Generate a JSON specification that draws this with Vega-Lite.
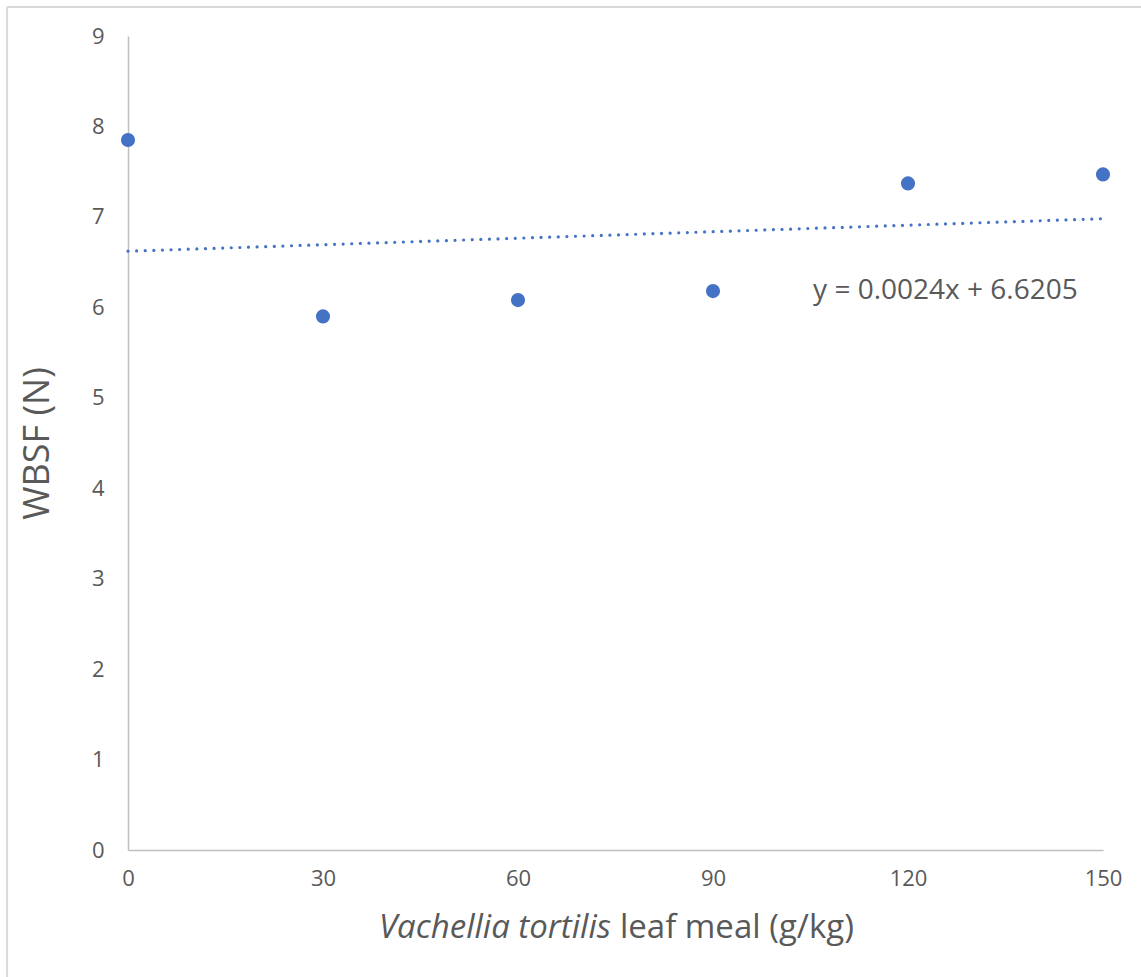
{
  "$schema": "https://vega.github.io/schema/vega-lite/v6.json",
  "width": 975,
  "height": 814,
  "autosize": {"type": "none"},
  "padding": {"left": 128, "top": 36, "right": 38, "bottom": 127},
  "background": "white",
  "config": {
    "view": {"stroke": null},
    "font": "Open Sans",
    "axis": {
      "domainColor": "#BFBFBF",
      "domainWidth": 1.5,
      "ticks": false,
      "grid": false,
      "labelColor": "#595959",
      "labelFont": "Open Sans",
      "labelFontSize": 22,
      "labelFlush": false,
      "titleColor": "#595959",
      "titleFont": "Open Sans",
      "titleFontWeight": "normal"
    }
  },
  "datasets": {
    "points": [
      {"dose": 0, "wbsf": 7.85},
      {"dose": 30, "wbsf": 5.9},
      {"dose": 60, "wbsf": 6.08},
      {"dose": 90, "wbsf": 6.18},
      {"dose": 120, "wbsf": 7.37},
      {"dose": 150, "wbsf": 7.47}
    ],
    "trend": [
      {"dose": 0, "wbsf": 6.6205},
      {"dose": 150, "wbsf": 6.9805}
    ],
    "labels": [
      {"dose": 105.4, "wbsf": 6.18, "text": "y = 0.0024x + 6.6205", "kind": "eq"},
      {"dose": 74.3, "wbsf": -0.86, "text": "Vachellia tortilis", "kind": "it"},
      {"dose": 74.3, "wbsf": -0.86, "text": "leaf meal (g/kg)", "kind": "rm"}
    ],
    "frame": [
      {"x1": -18.6, "x2": -18.6, "y1": -1.6, "y2": 9.32},
      {"x1": -18.6, "x2": 160, "y1": 9.32, "y2": 9.32}
    ]
  },
  "layer": [
    {
      "data": {"name": "trend"},
      "mark": {"type": "line", "color": "#4472C4", "strokeWidth": 3.2, "strokeDash": [0.01, 8.6], "strokeCap": "round"},
      "encoding": {
        "x": {"field": "dose", "type": "quantitative", "scale": {"domain": [0, 150], "nice": false},
          "axis": {"values": [0, 30, 60, 90, 120, 150], "title": null, "labelPadding": 18}},
        "y": {"field": "wbsf", "type": "quantitative", "scale": {"domain": [0, 9], "nice": false},
          "axis": {"values": [0, 1, 2, 3, 4, 5, 6, 7, 8, 9], "format": "d", "title": "WBSF (N)", "titleFontSize": 36,
            "labelPadding": 24, "titleX": -91, "titleY": 407, "titleAngle": -90, "titleAlign": "center", "titleBaseline": "middle"}}
      }
    },
    {
      "data": {"name": "frame"},
      "mark": {"type": "rule", "color": "#D9D9D9", "strokeWidth": 2, "clip": false},
      "encoding": {
        "x": {"field": "x1", "type": "quantitative"},
        "x2": {"field": "x2"},
        "y": {"field": "y1", "type": "quantitative"},
        "y2": {"field": "y2"}
      }
    },
    {
      "data": {"name": "points"},
      "mark": {"type": "point", "filled": true, "opacity": 1, "color": "#4472C4", "size": 200},
      "encoding": {
        "x": {"field": "dose", "type": "quantitative"},
        "y": {"field": "wbsf", "type": "quantitative"}
      }
    },
    {
      "data": {"name": "labels"},
      "transform": [{"filter": "datum.kind === 'eq'"}],
      "mark": {"type": "text", "align": "left", "baseline": "middle", "fontSize": 28, "color": "#595959", "font": "Open Sans"},
      "encoding": {
        "x": {"field": "dose", "type": "quantitative"},
        "y": {"field": "wbsf", "type": "quantitative"},
        "text": {"field": "text"}
      }
    },
    {
      "data": {"name": "labels"},
      "transform": [{"filter": "datum.kind === 'it'"}],
      "mark": {"type": "text", "align": "right", "baseline": "middle", "fontSize": 33, "fontStyle": "italic", "color": "#595959", "font": "Open Sans"},
      "encoding": {
        "x": {"field": "dose", "type": "quantitative"},
        "y": {"field": "wbsf", "type": "quantitative"},
        "text": {"field": "text"}
      }
    },
    {
      "data": {"name": "labels"},
      "transform": [{"filter": "datum.kind === 'rm'"}],
      "mark": {"type": "text", "align": "left", "baseline": "middle", "dx": 9, "fontSize": 33, "color": "#595959", "font": "Open Sans"},
      "encoding": {
        "x": {"field": "dose", "type": "quantitative"},
        "y": {"field": "wbsf", "type": "quantitative"},
        "text": {"field": "text"}
      }
    }
  ]
}
